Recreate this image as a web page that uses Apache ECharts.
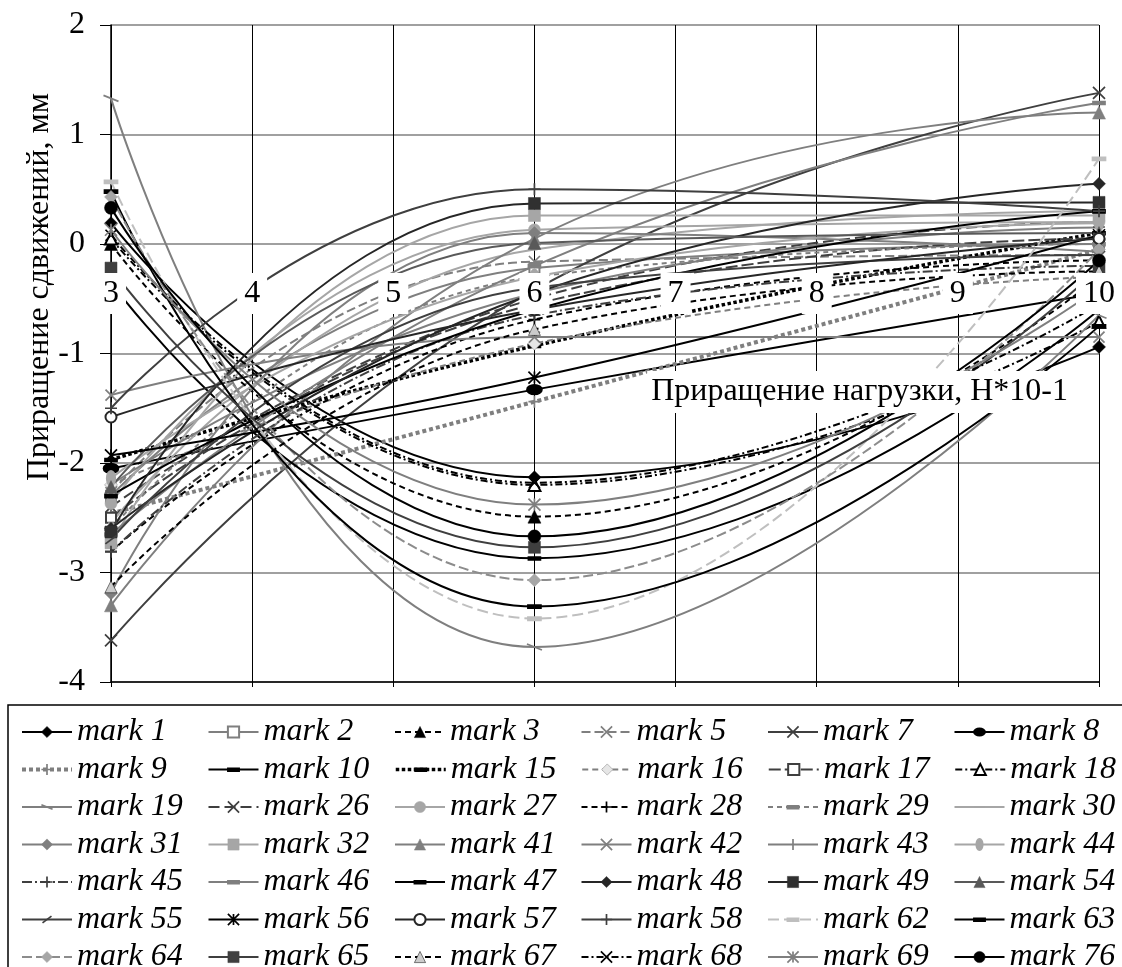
<!DOCTYPE html>
<html>
<head>
<meta charset="utf-8">
<script src="https://cdn.jsdelivr.net/npm/echarts@6/dist/echarts.min.js"></script>
<style>
  html, body { margin: 0; padding: 0; background: #fff; }
  #chart { width: 1122px; height: 967px; }
</style>
</head>
<body>
<div id="chart"></div>
<script>
// loads where the readings were taken
const xPoints = [3, 6, 10];

// legend order, row by row (6 per row)
const markNames = [
  'mark 1', 'mark 2', 'mark 3', 'mark 5', 'mark 7', 'mark 8',
  'mark 9', 'mark 10', 'mark 15', 'mark 16', 'mark 17', 'mark 18',
  'mark 19', 'mark 26', 'mark 27', 'mark 28', 'mark 29', 'mark 30',
  'mark 31', 'mark 32', 'mark 41', 'mark 42', 'mark 43', 'mark 44',
  'mark 45', 'mark 46', 'mark 47', 'mark 48', 'mark 49', 'mark 54',
  'mark 55', 'mark 56', 'mark 57', 'mark 58', 'mark 62', 'mark 63',
  'mark 64', 'mark 65', 'mark 67', 'mark 68', 'mark 69', 'mark 76'
];

// displacement increments, mm
const valuesAt3 = [
  0.19, -2.30, 0.00, -2.27, -3.62, -2.05,
  -2.46, -0.35, -1.97, -2.20, -2.50, 0.05,
  1.33, -2.40, -2.37, -2.81, -2.60, -2.55,
  -3.19, -2.73, -3.30, -1.38, -2.20, -2.14,
  -2.81, -2.65, -2.30, -2.60, -2.63, -2.22,
  -2.70, -1.93, -1.58, -1.50, 0.57, 0.48,
  0.43, -0.22, -3.13, 0.08, 0.13, 0.33
];
const valuesAt6 = [
  -2.13, -0.22, -2.49, -0.16, -0.42, -1.33,
  -1.44, -2.87, -0.93, -0.91, -0.55, -2.20,
  -3.68, -0.50, 0.13, -0.69, -0.30, -0.05,
  0.10, 0.26, 0.05, -0.85, -0.45, -0.30,
  -0.65, -0.20, -0.60, -0.45, 0.37, 0.01,
  -0.40, -1.22, -0.60, 0.50, -3.42, -3.31,
  -3.07, -2.77, -0.78, -2.18, -2.38, -2.67
];
const valuesAt10 = [
  -0.94, 0.00, -0.30, -0.10, 1.38, -0.45,
  -0.05, -0.60, 0.10, -0.30, 0.05, -0.71,
  -0.65, 0.20, 0.20, -0.15, 0.00, 0.30,
  -0.07, 0.26, 1.20, -0.85, 0.15, 0.19,
  -0.20, 1.29, 0.30, 0.55, 0.38, 0.10,
  -0.10, 0.08, 0.05, 0.30, 0.78, -0.75,
  -0.05, -0.22, -0.25, -0.55, -0.40, -0.15
];

const FONT = "'Liberation Serif', 'Times New Roman', serif";

// marker shapes (boxed so the legend keeps their proportions)
const SYM = {
  x: 'path://M0,0L10,10M10,0L0,10',
  plus: 'path://M5,0L5,10M0,5L10,5',
  tick: 'path://M0,0M10,10M5,0L5,10',
  star: 'path://M0,0L10,10M10,0L0,10M5,0L5,10',
  dash: 'path://M0,0M10,10M0,4L10,4L10,6.4L0,6.4Z',
  back: 'path://M0,0M10,10M0,3L10,7',
  slash: 'path://M0,0M10,10M1,8L9,2',
  flat: 'path://M0,0M10,10M0,5L10,5',
  wide: 'path://M0,0M14,14M0,7A7,4.5 0 1,0 14,7A7,4.5 0 1,0 0,7Z',
  tall: 'path://M0,0M14,14M3,7A4,7 0 1,0 11,7A4,7 0 1,0 3,7Z'
};

const K = '#000000', D = '#3f3f3f', G = '#7f7f7f', L = '#a6a6a6', LL = '#bfbfbf';
const DASH = [6, 4], LDASH = [11, 5], DDOT = [7, 3, 2, 3], DOT = [3.5, 2.5];
const W = 2;

// one style per mark: line colour, dash, width, symbol, size, fill, stroke
const markStyles = [
  [K, 'solid', W, 'diamond', 13, K, K],
  [G, 'solid', W, 'emptyRect', 10, G, G],
  [K, DASH, W, 'triangle', 13, K, K],
  [G, [9, 4], W, SYM.x, 11, G, G],
  [D, 'solid', W, SYM.x, 12, D, D],
  [K, 'solid', W, SYM.wide, 15, K, K],
  [G, [4, 3], 4, SYM.plus, 12, G, G],
  [K, 'solid', W, SYM.dash, 12, K, K],
  [K, DOT, 3.5, SYM.dash, 12, K, K],
  [G, DASH, W, 'diamond', 13, '#e6e6e6', G],
  [D, [12, 4], W, 'emptyRect', 10, D, D],
  [K, DDOT, W, 'emptyTriangle', 12, K, K],
  [G, 'solid', W, SYM.back, 15, G, G],
  [D, LDASH, W, SYM.x, 11, D, D],
  [L, 'solid', W, 'circle', 12, L, L],
  [K, DASH, W, SYM.plus, 12, K, K],
  [G, [5, 4], W, SYM.dash, 12, G, G],
  [L, 'solid', W, SYM.flat, 6, L, L],
  [G, 'solid', W, 'diamond', 13, G, G],
  [L, 'solid', W, 'rect', 12, L, L],
  [G, 'solid', W, 'triangle', 13, G, G],
  [G, 'solid', W, SYM.x, 11, G, G],
  [G, 'solid', W, SYM.tick, 12, G, G],
  [L, 'solid', W, SYM.tall, 15, L, L],
  [D, [10, 3, 2, 3], W, SYM.plus, 12, D, D],
  [G, 'solid', W, SYM.dash, 12, G, G],
  [K, 'solid', W, SYM.dash, 12, K, K],
  ['#262626', 'solid', W, 'diamond', 13, '#262626', '#262626'],
  ['#262626', 'solid', W, 'rect', 12, '#303030', '#303030'],
  ['#595959', 'solid', W, 'triangle', 13, '#595959', '#595959'],
  [D, 'solid', W, SYM.slash, 14, D, D],
  [K, 'solid', W, SYM.star, 12, K, K],
  ['#262626', 'solid', W, 'emptyCircle', 11, '#262626', '#262626'],
  [D, 'solid', W, SYM.plus, 12, D, D],
  [LL, LDASH, W, SYM.dash, 13, LL, LL],
  [K, 'solid', W, SYM.dash, 13, K, K],
  ['#8c8c8c', [10, 4], W, 'diamond', 13, L, L],
  [D, 'solid', W, 'rect', 12, D, D],
  [K, DASH, W, 'triangle', 12, '#cccccc', K],
  [K, DDOT, W, SYM.x, 11, K, K],
  [G, 'solid', W, SYM.star, 12, G, G],
  [K, 'solid', W, 'circle', 13, K, K]
];

const columns = [valuesAt3, valuesAt6, valuesAt10];

const series = markNames.map((name, i) => {
  const [c, dash, w, sym, size, fill, stroke] = markStyles[i];
  const isPath = sym.indexOf('path://') === 0;
  return {
    name: name,
    type: 'line',
    smooth: true,
    data: xPoints.map((x, j) => [x, columns[j][i]]),
    symbol: sym,
    symbolSize: size,
    showSymbol: true,
    lineStyle: { color: c, width: w, type: dash },
    itemStyle: {
      color: fill,
      borderColor: stroke,
      borderWidth: isPath ? 1.7 : (sym.indexOf('empty') === 0 ? 1.5 : 0.5)
    },
    emphasis: { disabled: true },
    z: 2
  };
});

const legendText = {
  fontFamily: FONT,
  fontStyle: 'italic',
  fontSize: 32,
  lineHeight: 32,
  color: '#000'
};

const chart = echarts.init(document.getElementById('chart'));
chart.setOption({
  animation: false,
  backgroundColor: '#fff',
  grid: { left: 111, right: 23, top: 25, bottom: 285, containLabel: false, outerBoundsMode: 'none' },
  xAxis: [
    {
      type: 'value', min: 3, max: 10, interval: 1, position: 'bottom',
      axisLine: { onZero: false, lineStyle: { color: '#000', width: 1.5 } },
      axisTick: { show: true, length: 5, lineStyle: { color: '#000' } },
      axisLabel: { show: false },
      splitLine: { show: true, lineStyle: { color: '#000', width: 1 } }
    },
    {
      // category labels sit on the zero line (0 is 438px above the -4 edge)
      type: 'value', min: 3, max: 10, interval: 1, position: 'bottom', offset: -438, z: 10,
      axisLine: { show: false, onZero: false },
      axisTick: { show: false },
      splitLine: { show: false },
      axisLabel: {
        margin: 29, fontFamily: FONT, fontSize: 32, color: '#000',
        backgroundColor: '#fff', padding: [5, 7, 4, 7],
        showMinLabel: true, showMaxLabel: true
      }
    }
  ],
  yAxis: {
    type: 'value', min: -4, max: 2, interval: 1,
    axisLine: { show: true, onZero: false, lineStyle: { color: '#000', width: 1.5 } },
    axisTick: { show: true, length: 11, lineStyle: { color: '#000' } },
    axisLabel: { margin: 26, fontFamily: FONT, fontSize: 32, color: '#000' },
    splitLine: { show: true, lineStyle: { color: '#808080', width: 1.5 } }
  },
  legend: {
    orient: 'horizontal',
    left: 20,
    top: 716,
    padding: 0,
    itemGap: 5.5,
    itemWidth: 50,
    itemHeight: 14,
    selectedMode: false,
    data: markNames,
    lineStyle: { width: 'inherit' },
    itemStyle: { borderWidth: 'inherit' },
    // fixed-width text so the legend falls into six even columns
    formatter: function (name) {
      return markNames.indexOf(name) % 6 === 5 ? '{m|' + name + '}' : '{n|' + name + '}';
    },
    textStyle: Object.assign({
      rich: {
        n: Object.assign({ width: 125 }, legendText),
        m: Object.assign({ width: 110 }, legendText)
      }
    }, legendText)
  },
  graphic: {
    elements: [
      {
        type: 'text', x: 1072, y: 392, z: 100,
        style: {
          text: 'Приращение нагрузки, Н*10-1', font: '32px "Liberation Serif"', fill: '#000',
          align: 'right', verticalAlign: 'middle', backgroundColor: '#fff', padding: [5, 4]
        }
      },
      {
        type: 'text', x: 40, y: 287, rotation: Math.PI / 2, z: 100,
        style: {
          text: 'Приращение сдвижений, мм', font: '32px "Liberation Serif"', fill: '#000',
          align: 'center', verticalAlign: 'middle'
        }
      },
      {
        type: 'rect', z: 100,
        shape: { x: 8, y: 705, width: 1130, height: 290 },
        style: { fill: 'none', stroke: '#000', lineWidth: 1.5 }
      }
    ]
  },
  series: series
});
</script>
</body>
</html>
